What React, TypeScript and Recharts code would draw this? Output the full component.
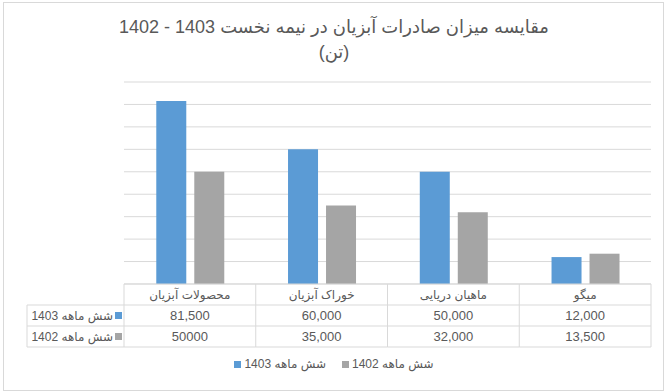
import { BarChart, Bar, XAxis, YAxis, CartesianGrid, Legend } from "recharts";

const categories = ["محصولات آبزیان", "خوراک آبزیان", "ماهیان دریایی", "میگو"];
const values1403 = [81500, 60000, 50000, 12000];
const values1402 = [50000, 35000, 32000, 13500];
const labels1403 = ["81,500", "60,000", "50,000", "12,000"];
const labels1402 = ["50000", "35,000", "32,000", "13,500"];
const yTicks = [0, 10000, 20000, 30000, 40000, 50000, 60000, 70000, 80000, 90000];

const seriesNames = ["شش ماهه 1403", "شش ماهه 1402"];
const titleLine1 = "مقایسه میزان صادرات آبزیان در نیمه نخست 1403 - 1402";
const titleLine2 = "(تن)";

const BLUE = "#5B9BD5";
const GRAY = "#A5A5A5";
const LINE = "#d9d9d9";
const TEXT = "#595959";
const FONT = "'Liberation Sans', 'DejaVu Sans', Arial, sans-serif";

const PLOT_LEFT = 124;
const PLOT_RIGHT = 651;
const PLOT_TOP = 82;
const BASE_Y = 284;
const COL_W = (PLOT_RIGHT - PLOT_LEFT) / categories.length;
const ROW_H = 21;
const LABEL_LEFT = 27;

const data = categories.map((name, i) => ({
  name,
  v1403: values1403[i],
  v1402: values1402[i],
}));

function TableTick(props: any) {
  const { x, index } = props;
  const left = x - COL_W / 2;
  const right = left + COL_W;
  const rows = [labels1403[index], labels1402[index]];
  const y0 = BASE_Y;
  return (
    <g fontFamily={FONT}>
      {index === 0 && (
        <g>
          <line x1={left} y1={y0} x2={left} y2={y0 + ROW_H * 3} stroke={LINE} />
          <line x1={LABEL_LEFT} y1={y0 + ROW_H} x2={left} y2={y0 + ROW_H} stroke={LINE} />
          <line x1={LABEL_LEFT} y1={y0 + ROW_H * 2} x2={left} y2={y0 + ROW_H * 2} stroke={LINE} />
          <line x1={LABEL_LEFT} y1={y0 + ROW_H * 3} x2={left} y2={y0 + ROW_H * 3} stroke={LINE} />
          <line x1={LABEL_LEFT} y1={y0 + ROW_H} x2={LABEL_LEFT} y2={y0 + ROW_H * 3} stroke={LINE} />
          {seriesNames.map((s, r) => (
            <g key={s}>
              <text
                x={113}
                y={y0 + ROW_H * (r + 1) + 15}
                fontSize={12}
                fill={TEXT}
                direction="rtl"
                textAnchor="start"
              >
                {s}
              </text>
              <rect
                x={115}
                y={y0 + ROW_H * (r + 1) + 7}
                width={7}
                height={7}
                fill={r === 0 ? BLUE : GRAY}
              />
            </g>
          ))}
        </g>
      )}
      <line x1={right} y1={y0} x2={right} y2={y0 + ROW_H * 3} stroke={LINE} />
      <line x1={left} y1={y0 + ROW_H} x2={right} y2={y0 + ROW_H} stroke={LINE} />
      <line x1={left} y1={y0 + ROW_H * 2} x2={right} y2={y0 + ROW_H * 2} stroke={LINE} />
      <line x1={left} y1={y0 + ROW_H * 3} x2={right} y2={y0 + ROW_H * 3} stroke={LINE} />
      <text x={x} y={y0 + 15} fontSize={12} fill={TEXT} textAnchor="middle">
        {categories[index]}
      </text>
      {rows.map((t, r) => (
        <text
          key={r}
          x={x}
          y={y0 + ROW_H * (r + 1) + 15}
          fontSize={13}
          fill={TEXT}
          textAnchor="middle"
        >
          {t}
        </text>
      ))}
    </g>
  );
}

function LegendContent() {
  return (
    <div
      style={{
        display: "flex",
        justifyContent: "center",
        gap: 16,
        fontFamily: FONT,
        fontSize: 12,
        color: TEXT,
      }}
    >
      {seriesNames.map((s, i) => (
        <div key={s} style={{ display: "flex", alignItems: "center", gap: 3 }}>
          <span
            style={{
              display: "inline-block",
              width: 7,
              height: 7,
              background: i === 0 ? BLUE : GRAY,
            }}
          />
          <span dir="rtl">{s}</span>
        </div>
      ))}
    </div>
  );
}

export default function App() {
  return (
    <div
      style={{
        position: "absolute",
        left: 0,
        top: 0,
        width: 668,
        height: 392,
        background: "#fff",
        fontFamily: FONT,
      }}
    >
      <div
        style={{
          position: "absolute",
          left: 3,
          top: 2,
          width: 659,
          height: 387,
          border: `1px solid ${LINE}`,
        }}
      />
      <div
        dir="rtl"
        style={{
          position: "absolute",
          top: 15,
          left: 0,
          width: 668,
          textAlign: "center",
          fontSize: 18,
          lineHeight: "25px",
          color: TEXT,
        }}
      >
        <div>{titleLine1}</div>
        <div>{titleLine2}</div>
      </div>
      <BarChart
        width={668}
        height={392}
        data={data}
        margin={{ top: PLOT_TOP, right: 668 - PLOT_RIGHT, bottom: 392 - BASE_Y - 1, left: PLOT_LEFT }}
        barCategoryGap="24.5%"
        barGap={8}
        style={{ position: "absolute", left: 0, top: 0 }}
      >
        <CartesianGrid vertical={false} stroke={LINE} />
        <YAxis hide domain={[0, 90000]} ticks={yTicks} interval={0} width={0} />
        <XAxis
          dataKey="name"
          height={1}
          axisLine={{ stroke: LINE }}
          tickLine={false}
          tick={(p: any) => <TableTick {...p} />}
          interval={0}
        />
        <Legend
          verticalAlign="middle"
          content={<LegendContent />}
          wrapperStyle={{ position: "absolute", top: 357, left: 0, width: 668 }}
        />
        <Bar dataKey="v1403" name={seriesNames[0]} fill={BLUE} isAnimationActive={false} />
        <Bar dataKey="v1402" name={seriesNames[1]} fill={GRAY} isAnimationActive={false} />
      </BarChart>
    </div>
  );
}
